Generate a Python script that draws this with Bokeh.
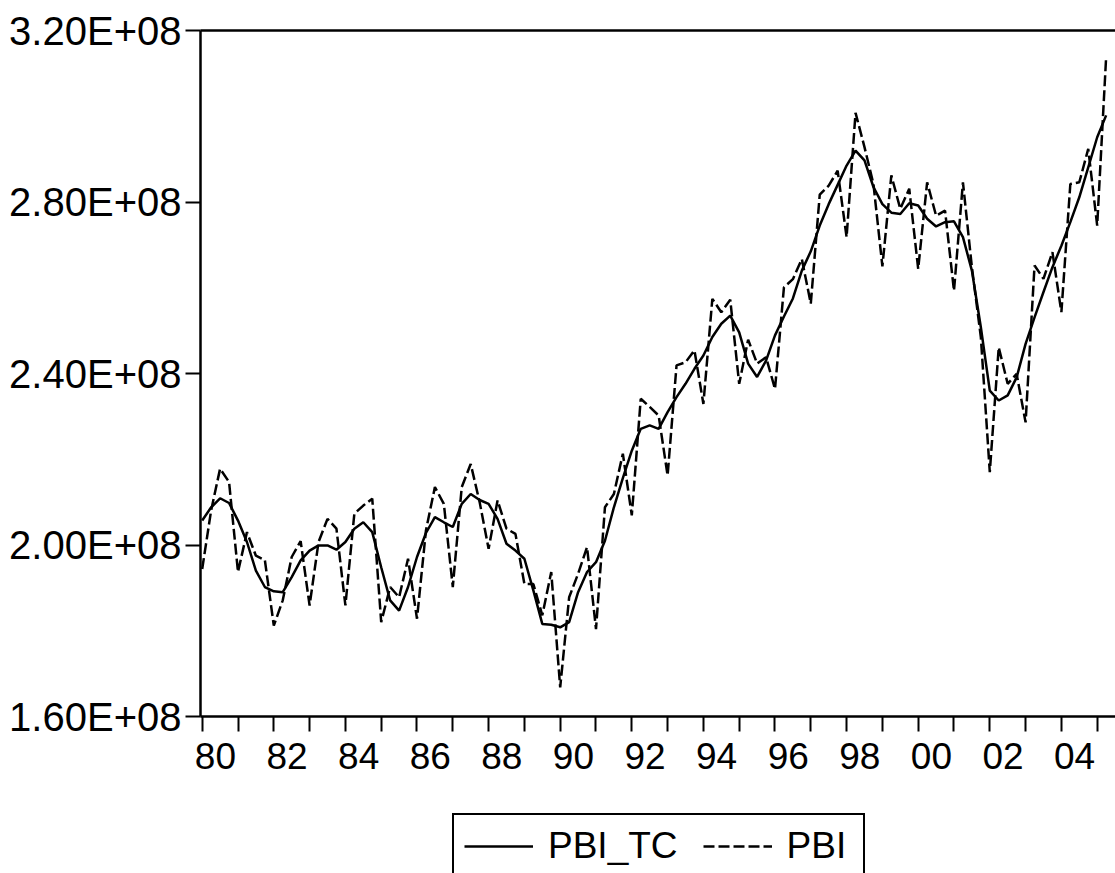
from bokeh.plotting import figure
from bokeh.layouts import column
from bokeh.models import (ColumnDataSource, Range1d, FixedTicker, LinearAxis,
                          CustomJSTickFormatter, Legend, LegendItem)
from bokeh.embed import file_html
from bokeh.resources import INLINE

# Quarterly data, 1980Q1 .. 2005Q2 (values in millions)
start_year = 1980
pbi = [
    194.4, 208.1, 217.8, 214.7,
    193.7, 203.0, 197.5, 196.5,
    181.2, 187.1, 197.2, 200.9,
    185.9, 200.7, 206.1, 203.8,
    185.9, 207.3, 209.2, 210.8,
    182.0, 190.2, 187.8, 196.8,
    182.8, 203.4, 213.5, 209.6,
    190.2, 213.5, 218.9, 210.0,
    199.1, 210.4, 203.8, 202.6,
    190.9, 190.9, 183.6, 193.7,
    166.8, 187.8, 193.3, 199.5,
    180.4, 208.8, 211.9, 221.3,
    206.9, 234.1, 232.2, 230.2,
    216.2, 241.9, 242.6, 245.4,
    232.9, 257.4, 254.3, 257.2,
    237.6, 247.9, 242.3, 243.8,
    236.4, 260.1, 262.0, 266.7,
    256.3, 281.7, 283.8, 287.3,
    271.8, 300.8, 292.8, 284.2,
    265.0, 286.2, 278.4, 283.1,
    264.4, 284.6, 276.8, 278.0,
    259.3, 284.6, 264.8, 248.5,
    217.0, 246.1, 237.6, 239.9,
    228.6, 265.2, 262.1, 268.3,
    254.3, 284.2, 284.6, 292.4,
    274.5, 313.8,
]
pbi_tc = [
    205.7, 208.8, 210.9, 209.8,
    205.7, 200.7, 194.0, 190.2,
    189.2, 189.0, 192.5, 196.4,
    198.7, 199.9, 199.9, 198.9,
    200.7, 203.8, 205.3, 203.0,
    194.8, 187.1, 184.7, 190.2,
    197.2, 202.8, 206.5, 205.3,
    204.2, 209.6, 211.9, 210.5,
    209.6, 206.1, 200.3, 198.7,
    196.8, 189.4, 181.6, 181.4,
    180.8, 182.0, 189.0, 193.7,
    196.0, 201.0, 208.8, 215.6,
    222.0, 227.1, 227.9, 227.1,
    231.0, 234.5, 237.6, 241.1,
    244.2, 248.5, 251.6, 253.5,
    249.6, 242.3, 239.2, 243.0,
    248.9, 253.3, 257.5, 264.0,
    268.5, 274.5, 279.5, 284.0,
    288.5, 292.0, 289.7, 283.5,
    279.5, 277.5, 277.2, 279.7,
    279.2, 276.1, 274.3, 275.3,
    275.5, 271.8, 264.0, 250.8,
    236.0, 233.7, 234.9, 239.1,
    246.9, 253.1, 259.0, 264.8,
    269.8, 275.3, 281.1, 288.1,
    295.1, 300.2,
]
series_labels = ["PBI_TC", "PBI"]
tick_years = list(range(1980, 2006))
label_years = list(range(1980, 2005, 2))
y_ticks = [1.6e8, 2.0e8, 2.4e8, 2.8e8, 3.2e8]

t = [start_year + i / 4 for i in range(len(pbi))]
src = ColumnDataSource(dict(t=t,
                            pbi=[v * 1e6 for v in pbi],
                            tc=[v * 1e6 for v in pbi_tc]))

FONT = "Liberation Sans"
FS = "37px"
DASH = "11 4"

# ---------------- main chart ----------------
p = figure(width=1115, height=800, output_backend="svg", toolbar_location=None,
           x_range=Range1d(1979.9525, 2005.5115), y_range=Range1d(1.6e8, 3.2e8),
           min_border_left=200, min_border_right=0, min_border_top=30,
           min_border_bottom=84)
p.outline_line_color = None
p.grid.visible = False
p.background_fill_color = "white"
p.border_fill_color = "white"

xa = p.xaxis[0]
xa.ticker = FixedTicker(ticks=[y + 0.37 for y in label_years], minor_ticks=tick_years)
xa.formatter = CustomJSTickFormatter(
    code="const y = Math.floor(tick + 0.001) % 100; return (y < 10 ? '0' : '') + y;")
xa.major_tick_line_color = None
xa.major_tick_out = 0
xa.major_tick_in = 0
xa.minor_tick_out = 15
xa.minor_tick_in = 0
xa.minor_tick_line_width = 2
xa.minor_tick_line_color = "black"
xa.axis_line_width = 2.5
xa.axis_line_color = "black"
xa.major_label_text_font = FONT
xa.major_label_text_font_size = FS
xa.major_label_text_color = "black"
xa.major_label_standoff = 11

ya = p.yaxis[0]
ya.ticker = FixedTicker(ticks=y_ticks, minor_ticks=[])
ya.formatter = CustomJSTickFormatter(code="return (tick / 1e8).toFixed(2) + 'E+08';")
ya.major_tick_out = 15
ya.major_tick_in = 0
ya.major_tick_line_width = 2
ya.major_tick_line_color = "black"
ya.minor_tick_line_color = None
ya.axis_line_width = 2.5
ya.axis_line_color = "black"
ya.major_label_text_font = FONT
ya.major_label_text_font_size = "40px"
ya.major_label_text_color = "black"
ya.major_label_standoff = 4

top = LinearAxis(ticker=FixedTicker(ticks=[], minor_ticks=[]),
                 major_label_text_font_size="0px", major_tick_out=0, major_tick_in=0,
                 minor_tick_out=0, minor_tick_in=0, major_label_standoff=0,
                 axis_line_width=2.5, axis_line_color="black")
p.add_layout(top, "above")

p.line("t", "tc", source=src, line_color="black", line_width=2.5)
p.line("t", "pbi", source=src, line_color="black", line_width=2.5, line_dash=DASH)

# ---------------- legend strip (same frame alignment as the chart) ----------------
q = figure(width=1115, height=73, output_backend="svg", toolbar_location=None,
           x_range=Range1d(0, 1), y_range=Range1d(0, 1),
           x_axis_location=None, y_axis_location=None,
           min_border_left=200, min_border_top=0, min_border_right=0,
           min_border_bottom=0)
q.outline_line_color = None
q.grid.visible = False
q.background_fill_color = "white"
q.border_fill_color = "white"
# series drawn out of this strip's view; only their legend glyphs show
l_tc = q.line("t", "tc", source=src, line_color="black", line_width=2.5)
l_pbi = q.line("t", "pbi", source=src, line_color="black", line_width=2.5,
               line_dash=DASH)

legend = Legend(items=[LegendItem(label=series_labels[0], renderers=[l_tc]),
                       LegendItem(label=series_labels[1], renderers=[l_pbi])],
                orientation="horizontal", location=(252, -6), padding=10,
                spacing=25, glyph_width=69, label_standoff=15, label_width=66,
                border_line_color="black", border_line_width=2, border_line_alpha=1.0,
                background_fill_color="white", background_fill_alpha=1.0,
                label_text_font=FONT, label_text_font_size=FS,
                label_text_color="black", margin=0)
q.add_layout(legend, "center")

layout = column(p, q, spacing=0)
open("out.html", "w").write(file_html(layout, INLINE))
